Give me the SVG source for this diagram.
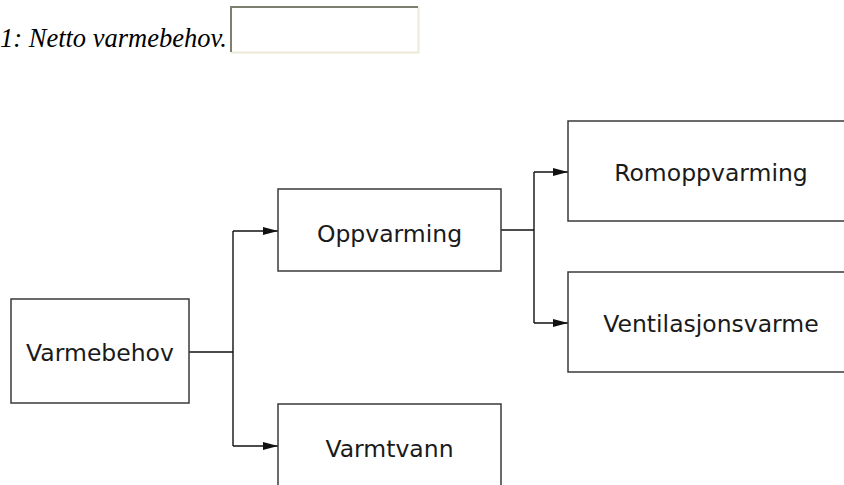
<svg xmlns="http://www.w3.org/2000/svg" width="844" height="485" viewBox="0 0 844 485">
<defs>
<style>
.box{fill:#fff;stroke:#3a3a3a;stroke-width:1.5}
.lbl{font-family:"DejaVu Sans",Verdana,sans-serif;font-size:23.5px;fill:#1a1a1a;text-anchor:middle}
.cap{font-family:"Liberation Serif","Times New Roman",serif;font-style:italic;font-size:26.5px;fill:#000}
.con{fill:none;stroke:#111;stroke-width:1.4}
</style>
<marker id="ah" markerWidth="16" markerHeight="10" refX="15" refY="5" orient="auto" markerUnits="userSpaceOnUse">
<path d="M0,1 L15,5 L0,9 Z" fill="#111"/>
</marker>
</defs>
<rect width="844" height="485" fill="#fff"/>
<g id="caption">
<text class="cap" x="0" y="47">1: Netto varmebehov.</text>
<rect x="230" y="6" width="189" height="47" fill="#fff"/>
<path d="M231,52.5 H418.5 V7" fill="none" stroke="#ece9d8" stroke-width="2"/>
<path d="M231,52 V7 H418" fill="none" stroke="#7f7f70" stroke-width="2"/>
</g>
<g id="connectors">
<path class="con" d="M189,352 H233"/>
<path class="con" d="M233,231 V446"/>
<path class="con" d="M233,231 H278" marker-end="url(#ah)"/>
<path class="con" d="M233,446 H278" marker-end="url(#ah)"/>
<path class="con" d="M501,230 H534"/>
<path class="con" d="M534,172 V323"/>
<path class="con" d="M534,172 H568" marker-end="url(#ah)"/>
<path class="con" d="M534,323 H568" marker-end="url(#ah)"/>
</g>
<g id="varmebehov">
<rect class="box" x="11" y="299" width="178" height="104"/>
<text class="lbl" x="100" y="361">Varmebehov</text>
</g>
<g id="oppvarming">
<rect class="box" x="278" y="189" width="223" height="82"/>
<text class="lbl" x="389.5" y="242">Oppvarming</text>
</g>
<g id="varmtvann">
<rect class="box" x="278" y="404" width="223" height="100"/>
<text class="lbl" x="389.5" y="457">Varmtvann</text>
</g>
<g id="romoppvarming">
<rect class="box" x="568" y="121" width="290" height="100"/>
<text class="lbl" x="711" y="181">Romoppvarming</text>
</g>
<g id="ventilasjonsvarme">
<rect class="box" x="568" y="272" width="290" height="100"/>
<text class="lbl" x="711" y="332">Ventilasjonsvarme</text>
</g>
</svg>
